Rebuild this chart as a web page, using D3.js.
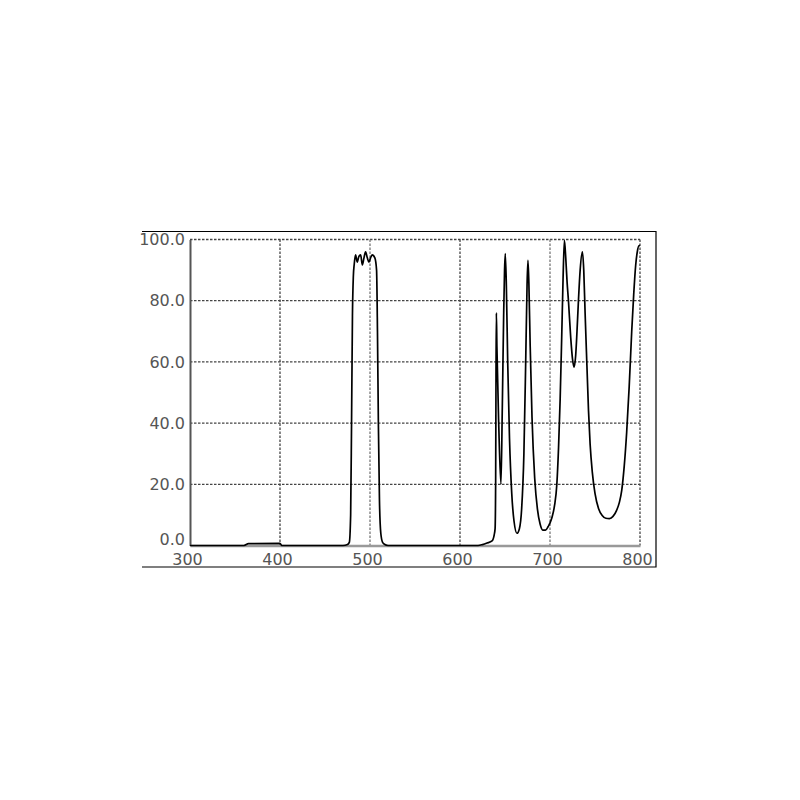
<!DOCTYPE html>
<html>
<head>
<meta charset="utf-8">
<script src="https://cdn.jsdelivr.net/npm/d3@7"></script>
<style>
  html, body { margin: 0; padding: 0; background: #fff; }
  svg { display: block; }
</style>
</head>
<body>
<svg id="chart" width="800" height="800"></svg>
<script>
// ---- data ----
const wavelength = [
  300, 360, 365, 400, 402, 470, 475, 477, 478.5, 479.5, 480.5, 481.5, 482.5, 484, 485.8, 487.7,
  489.6, 491.5, 493.3, 495.1, 497, 498.8, 500.6, 502.5, 505.4, 507.3, 508.3, 509.3, 510.5, 512,
  514, 516, 520, 620, 625, 630, 635.6, 638, 639, 639.6, 640, 640.4, 641, 643, 645.5, 647, 648.5,
  649.5, 650.3, 651.5, 653, 655, 657.5, 660, 663.3, 666, 668.5, 671, 673, 674.5, 675.5, 676.5,
  678, 680, 683, 686, 689, 692, 695, 698, 702, 705, 707.6, 709.5, 711.3, 713, 714.5, 716, 717.5, 719,
  720.5, 723, 725, 726.8, 728.5, 730, 731.6, 733.5, 736, 737.5, 739, 741, 742.8, 744.6, 747, 750,
  754, 758, 762, 766, 770, 774, 777, 779.7, 782.5, 785.2, 788, 790.8, 793, 795.2, 797, 799, 800
];
const transmission = [
  0, 0, 0.6, 0.7, 0, 0, 0.3, 1, 10, 40, 75, 88, 92, 95, 92.6, 94.5,
  95, 91.7, 94, 96, 94, 92.6, 94, 95, 94, 90, 70, 40, 15, 4,
  1, 0.4, 0, 0, 0.3, 0.8, 1.5, 3.5, 5.5, 20, 55, 76, 65, 40, 20, 45, 75,
  90, 95.4, 85, 60, 35, 17, 8, 4, 5.5, 12, 30, 60, 85, 93.2, 86,
  65, 42, 22, 12, 7, 5, 5, 6.2, 9, 13, 20, 32, 48, 68, 87, 99.7, 94, 86,
  80, 68, 61, 58.3, 62, 70, 80, 90, 96, 90, 76, 59, 44, 33, 24, 17,
  12, 9.8, 8.9, 8.8, 9.5, 11.5, 14, 18, 26, 37, 52, 70, 82, 91.6, 96, 98, 98
];
const xTicks = [300, 400, 500, 600, 700, 800];
const yTicks = [0, 20, 40, 60, 80, 100];
const xGrid = [400, 500, 600, 700, 800];
const yGrid = [20, 40, 60, 80, 100];

// ---- layout ----
const plot = { left: 190, right: 640, top: 239.5, bottom: 545.5 };
const frame = { left: 142, right: 656, top: 231.5, bottom: 567 };

const svg = d3.select("#chart");
const x = d3.scaleLinear().domain([300, 800]).range([plot.left, plot.right]);
const y = d3.scaleLinear().domain([0, 100]).range([plot.bottom, plot.top]);

// outer frame (top, right, bottom)
svg.append("path")
  .attr("d", `M${frame.left},${frame.top}H${frame.right}V${frame.bottom}H${frame.left}`)
  .attr("fill", "none").attr("stroke", "#000").attr("stroke-width", 1.2);

// grid lines (dotted)
const grid = svg.append("g").attr("stroke", "#444").attr("stroke-width", 1.3)
  .attr("stroke-dasharray", "2.5,1.5");
grid.selectAll("line.h").data(yGrid).join("line").attr("class", "h")
  .attr("x1", plot.left).attr("x2", plot.right)
  .attr("y1", d => y(d)).attr("y2", d => y(d));
grid.selectAll("line.v").data(xGrid).join("line").attr("class", "v")
  .attr("x1", d => x(d)).attr("x2", d => x(d))
  .attr("y1", plot.top).attr("y2", plot.bottom)
  .attr("stroke", d => (d === 500 || d === 700) ? "#777" : "#444");

// axes
const yAxis = d3.axisLeft(y).tickValues(yTicks).tickSize(0).tickPadding(5)
  .tickFormat(d3.format(".1f"));
const gy = svg.append("g").attr("transform", `translate(${plot.left},0)`).call(yAxis);
gy.select(".domain").attr("stroke", "#555").attr("stroke-width", 2);
gy.selectAll("text").attr("font-family", "'DejaVu Sans', sans-serif")
  .attr("font-size", 16).attr("fill", "#555")
  .attr("dy", d => d === 0 ? "-0.05em" : "0.32em");

const xAxis = d3.axisBottom(x).tickValues(xTicks).tickSize(0).tickPadding(8)
  .tickFormat(d3.format("d"));
const gx = svg.append("g").attr("transform", `translate(0,${plot.bottom})`).call(xAxis);
gx.select(".domain").attr("stroke", "#999").attr("stroke-width", 2.5);
gx.selectAll("text").attr("font-family", "'DejaVu Sans', sans-serif")
  .attr("font-size", 16).attr("fill", "#555").attr("dx", -3);

// transmission curve
const pts = wavelength.map((w, i) => [w, transmission[i]]);
const line = d3.line().x(d => x(d[0])).y(d => y(d[1])).curve(d3.curveMonotoneX);
svg.append("path").datum(pts)
  .attr("d", line)
  .attr("fill", "none").attr("stroke", "#000").attr("stroke-width", 1.7)
  .attr("stroke-linejoin", "round");
</script>
</body>
</html>
